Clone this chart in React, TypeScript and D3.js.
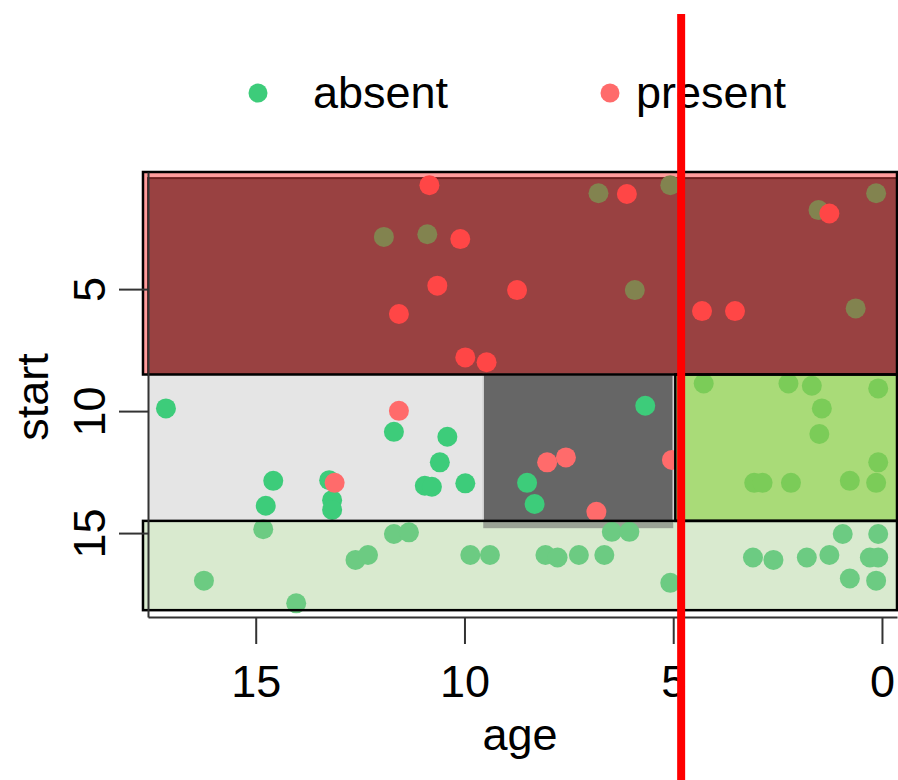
import React, { useRef, useEffect } from 'react';
import * as d3 from 'd3';

// kyphosis-style partition plot: age (reversed) vs start
const ageTicks = [15, 10, 5, 0];
const startTicks = [5, 10, 15];

const absentAge = [
  11.93, 10.89, 6.79, 5.07, 5.92, 0.14, 1.52, 0.63,
  17.15, 11.69, 10.41, 10.59, 14.58, 13.24, 10.95, 10.78, 9.98, 14.76, 13.17, 13.17,
  5.67, 8.5, 8.32,
  4.27, 2.24, 1.68, 0.09, 1.44, 1.5, 0.09, 3.06, 2.86, 2.18, 0.77, 0.14,
  14.82, 11.69, 11.33, 12.61, 12.31, 9.86, 9.39, 16.24, 14.03, 6.47, 6.05, 8.06, 7.77,
  7.26, 6.65, 5.07, 3.09, 2.6, 1.8, 1.26, 0.94, 0.09, 0.29, 0.09, 0.77, 0.14,
];
const absentStart = [
  2.86, 2.75, 1.07, 0.74, 5.04, 1.07, 1.76, 5.79,
  9.89, 10.85, 11.05, 12.1, 12.86, 12.83, 13.06, 13.1, 12.96, 13.88, 13.65, 14.05,
  9.78, 12.94, 13.81,
  8.87, 8.87, 8.96, 9.07, 9.89, 10.94, 12.1, 12.94, 12.94, 12.94, 12.86, 12.94,
  14.84, 15.04, 14.97, 16.1, 15.9, 15.9, 15.9, 16.95, 17.88, 14.95, 14.95, 15.9, 16.0,
  15.9, 15.9, 17.04, 16.0, 16.1, 16.0, 15.9, 15.04, 15.04, 16.0, 16.0, 16.86, 16.95,
];
const presentAge = [
  10.84, 10.1, 10.65, 11.57, 9.98, 9.47, 8.74, 6.11, 1.26, 4.31, 3.52,
  11.57, 13.11, 5.03,
  8.02, 7.57, 6.84,
];
const presentStart = [
  0.74, 2.95, 4.86, 6.02, 7.8, 8.0, 5.04, 1.1, 1.9, 5.9, 5.9,
  9.99, 12.94, 12.0,
  12.1, 11.9, 14.13,
];

// partition splits (data units)
const startSplits = [8.5, 14.5];
const ageSplit = 5.0;
const nodeAgeLeft = 9.55;
const cutAge = 4.81;

const classes = ['absent', 'present'];

export default function App() {
  const xAxisRef = useRef<SVGGElement>(null);
  const yAxisRef = useRef<SVGGElement>(null);

  const x = d3.scaleLinear().domain([17.58, -0.36]).range([148, 897]);
  const y = d3.scaleLinear().domain([0.2, 18.44]).range([172, 617]);

  useEffect(() => {
    const gx = d3.select(xAxisRef.current);
    gx.call(d3.axisBottom(x).tickValues(ageTicks).tickSize(27).tickSizeOuter(0).tickFormat(d3.format('d')) as any);
    gx.select('.domain').attr('stroke', '#333').attr('stroke-width', 2);
    gx.selectAll('.tick line').attr('stroke', '#333').attr('stroke-width', 2);
    gx.selectAll('.tick text')
      .attr('y', 80)
      .attr('dy', null)
      .attr('fill', '#000')
      .attr('font-size', 45)
      .attr('font-family', '"Liberation Sans", Arial, sans-serif');

    const gy = d3.select(yAxisRef.current);
    gy.call(d3.axisLeft(y).tickValues(startTicks).tickSize(29).tickSizeOuter(0).tickFormat(d3.format('d')) as any);
    gy.select('.domain').attr('stroke', '#333').attr('stroke-width', 2);
    gy.selectAll('.tick line').attr('stroke', '#333').attr('stroke-width', 2);
    gy.selectAll('.tick text')
      .attr('x', 0)
      .attr('y', -43)
      .attr('dy', null)
      .attr('transform', 'rotate(-90)')
      .attr('text-anchor', 'middle')
      .attr('fill', '#000')
      .attr('font-size', 45)
      .attr('font-family', '"Liberation Sans", Arial, sans-serif');
  }, []);

  const [s1, s2] = startSplits;
  const a0 = 17.58;
  const aOut = 17.7;
  const aEnd = -0.36;

  const rect = (ageL: number, ageR: number, st0: number, st1: number) => ({
    x: x(ageL),
    y: y(st0),
    width: x(ageR) - x(ageL),
    height: y(st1) - y(st0),
  });

  const colorFor = (age: number, start: number, cls: string) => {
    if (start < s1) return cls === 'absent' ? '#82834f' : '#ff4646';
    if (start < s2 && age < ageSplit) return '#7bcc58';
    if (start < s2 || start < 14.8 && age > ageSplit && age < nodeAgeLeft && cls === 'present') {
      return cls === 'absent' ? '#3dcc7a' : '#ff6b6b';
    }
    return '#6ccb82';
  };

  const pts = [
    ...absentAge.map((a, i) => ({ age: a, start: absentStart[i], cls: classes[0] })),
    ...presentAge.map((a, i) => ({ age: a, start: presentStart[i], cls: classes[1] })),
  ];
  const inGreen = (p: any) => p.start >= s1 && p.start < s2 && p.age < ageSplit;
  const dot = (p: any, i: number) => (
    <circle key={i} cx={x(p.age)} cy={y(p.start)} r={10} fill={colorFor(p.age, p.start, p.cls)} />
  );

  const font = '"Liberation Sans", Arial, sans-serif';

  return (
    <svg width={898} height={780} style={{ position: 'absolute', left: 0, top: 0, background: '#fff' }}>
      {/* top node */}
      <rect {...rect(aOut, aEnd, 0.2, s1)} fill="#ff9c9c" />
      <rect {...rect(a0, aEnd, 0.45, s1)} fill="#994141" stroke="#6e1e1e" strokeWidth={2} />
      {/* middle nodes */}
      <rect {...rect(a0, nodeAgeLeft, s1, s2)} fill="#e5e5e5" />
      {/* bottom node */}
      <rect {...rect(aOut, aEnd, s2, 18.16)} fill="#d9eacf" />
      <rect {...rect(nodeAgeLeft, ageSplit, s1, s2)} fill="#666666" stroke="#cfcfcf" strokeWidth={1.5} />
      <rect {...rect(nodeAgeLeft, ageSplit, s2, 14.8)} fill="#666666" opacity={0.55} />

      {pts.filter((p) => !inGreen(p)).map(dot)}

      <rect {...rect(4.95, aEnd, s1, s2)} fill="#a9db78" />
      {pts.filter(inGreen).map(dot)}

      {/* node outlines */}
      <rect {...rect(aOut, aEnd, 0.2, s1)} fill="none" stroke="#000" strokeWidth={2.5} />
      <rect {...rect(4.95, aEnd, s1, s2)} fill="none" stroke="#000" strokeWidth={2.5} />
      <rect {...rect(aOut, aEnd, s2, 18.16)} fill="none" stroke="#000" strokeWidth={2.5} />

      <g ref={xAxisRef} transform={`translate(0,${y(18.44)})`} />
      <g ref={yAxisRef} transform={`translate(${x(a0)},0)`} />

      <text x={520} y={750} textAnchor="middle" fontSize={45} fontFamily={font}>age</text>
      <text transform="translate(48,397) rotate(-90)" textAnchor="middle" fontSize={45} fontFamily={font}>start</text>

      {/* legend */}
      <circle cx={258} cy={93} r={9.5} fill="#3dcc7a" />
      <text x={313} y={108} fontSize={45} fontFamily={font}>{classes[0]}</text>
      <circle cx={610} cy={93} r={9.5} fill="#ff6b6b" />
      <text x={636} y={108} fontSize={45} fontFamily={font}>{classes[1]}</text>

      {/* cut line */}
      <line x1={x(cutAge)} x2={x(cutAge)} y1={14} y2={780} stroke="#ff0000" strokeWidth={8} />
    </svg>
  );
}
